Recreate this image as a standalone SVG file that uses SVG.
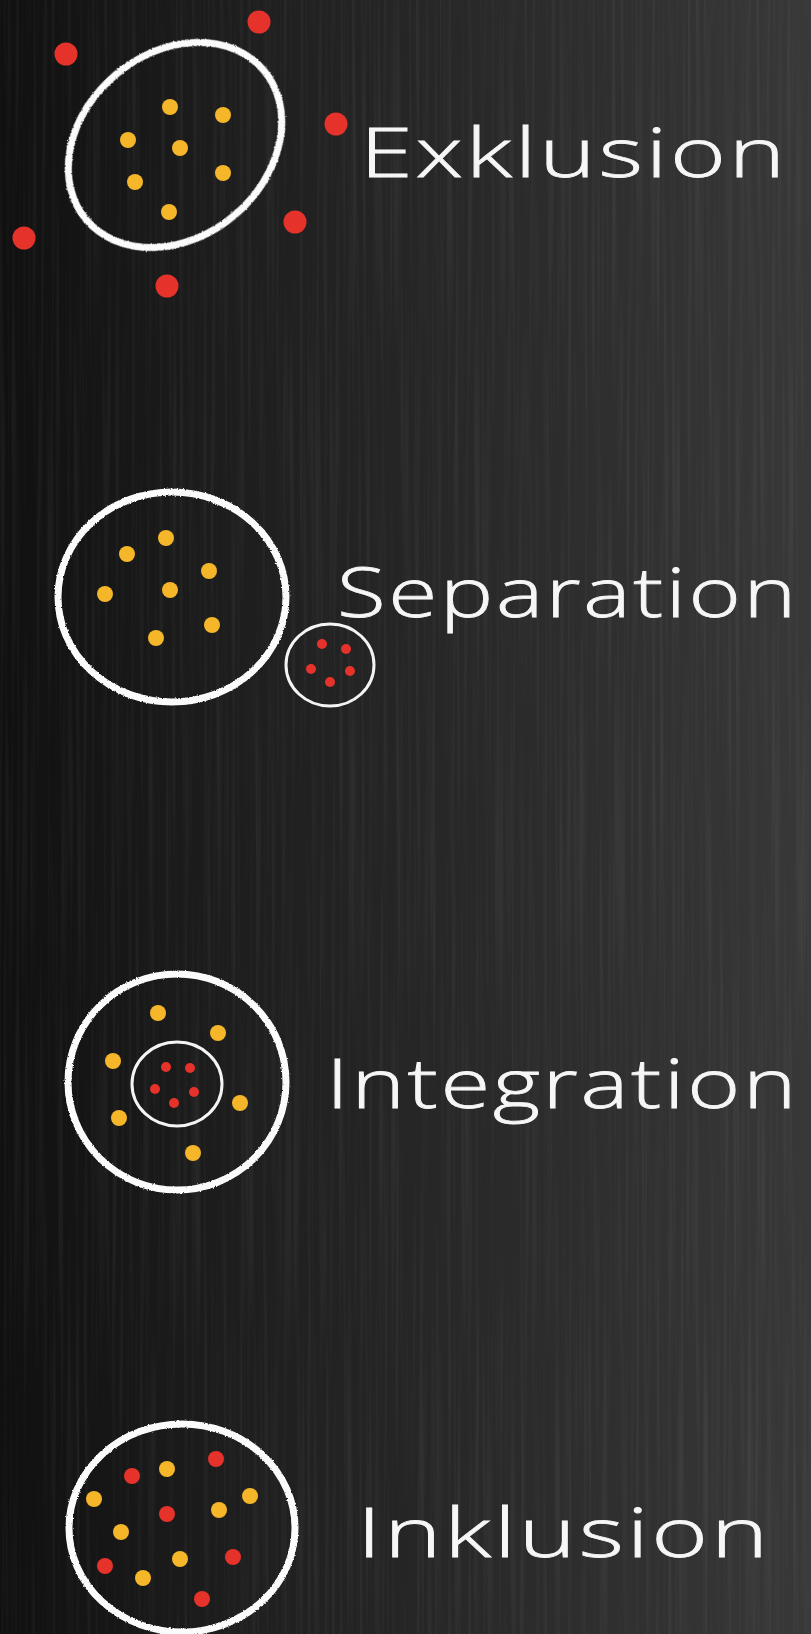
<svg xmlns="http://www.w3.org/2000/svg" width="811" height="1634" viewBox="0 0 811 1634">
<defs>
<linearGradient id="bg" x1="0" y1="0" x2="1" y2="0">
<stop offset="0" stop-color="#101010"/>
<stop offset="0.3" stop-color="#1e1e1e"/>
<stop offset="1" stop-color="#383838"/>
</linearGradient>
<filter id="streaks" x="0" y="0" width="100%" height="100%">
<feTurbulence type="fractalNoise" baseFrequency="0.25 0.003" numOctaves="2" seed="3" result="n"/>
<feColorMatrix type="matrix" values="0 0 0 0 1  0 0 0 0 1  0 0 0 0 1  0.9 0 0 0 -0.4" />
</filter>
<filter id="chalk" x="-10%" y="-10%" width="120%" height="120%">
<feTurbulence type="fractalNoise" baseFrequency="0.6" numOctaves="2" seed="7" result="t"/>
<feDisplacementMap in="SourceGraphic" in2="t" scale="2.5" xChannelSelector="R" yChannelSelector="G"/>
</filter>
<style>
.ring{fill:none;stroke:#fbfbfb;stroke-width:7;filter:url(#chalk)}
.thin{fill:none;stroke:#f4f4f4;stroke-width:3}
.y{fill:#f6b62a}
.r{fill:#e5322b}
.lbl{font-family:"Open Sans","Liberation Sans",sans-serif;font-size:68px;fill:#f6f6f6;stroke:#f6f6f6;stroke-width:0.8;font-weight:300;letter-spacing:2px}
</style>
</defs>
<rect width="811" height="1634" fill="url(#bg)"/>
<rect width="811" height="1634" filter="url(#streaks)" opacity="0.15"/>

<g id="exklusion">
<ellipse class="ring" cx="175" cy="145" rx="116" ry="92" transform="rotate(-40 175 145)"/>
<circle class="y" cx="170" cy="107" r="8"/>
<circle class="y" cx="223" cy="115" r="8"/>
<circle class="y" cx="128" cy="140" r="8"/>
<circle class="y" cx="180" cy="148" r="8"/>
<circle class="y" cx="223" cy="173" r="8"/>
<circle class="y" cx="135" cy="182" r="8"/>
<circle class="y" cx="169" cy="212" r="8"/>
<circle class="r" cx="259" cy="22" r="11.5"/>
<circle class="r" cx="66" cy="54" r="11.5"/>
<circle class="r" cx="336" cy="124" r="11.5"/>
<circle class="r" cx="295" cy="222" r="11.5"/>
<circle class="r" cx="24" cy="238" r="11.5"/>
<circle class="r" cx="167" cy="286" r="11.5"/>
<text class="lbl" x="360" y="177" textLength="428" lengthAdjust="spacingAndGlyphs">Exklusion</text>
</g>

<g id="separation">
<ellipse class="ring" cx="172" cy="597" rx="114" ry="105"/>
<circle class="y" cx="166" cy="538" r="8"/>
<circle class="y" cx="127" cy="554" r="8"/>
<circle class="y" cx="209" cy="571" r="8"/>
<circle class="y" cx="105" cy="594" r="8"/>
<circle class="y" cx="170" cy="590" r="8"/>
<circle class="y" cx="212" cy="625" r="8"/>
<circle class="y" cx="156" cy="638" r="8"/>
<ellipse class="thin" cx="330" cy="665" rx="44" ry="41"/>
<circle class="r" cx="322" cy="644" r="5"/>
<circle class="r" cx="346" cy="649" r="5"/>
<circle class="r" cx="311" cy="669" r="5"/>
<circle class="r" cx="350" cy="671" r="5"/>
<circle class="r" cx="330" cy="682" r="5"/>
<text class="lbl" x="337" y="617" textLength="462" lengthAdjust="spacingAndGlyphs">Separation</text>
</g>

<g id="integration">
<ellipse class="ring" cx="177" cy="1082" rx="109" ry="108"/>
<circle class="y" cx="158" cy="1013" r="8"/>
<circle class="y" cx="218" cy="1033" r="8"/>
<circle class="y" cx="113" cy="1061" r="8"/>
<circle class="y" cx="240" cy="1103" r="8"/>
<circle class="y" cx="119" cy="1118" r="8"/>
<circle class="y" cx="193" cy="1153" r="8"/>
<ellipse class="thin" cx="177" cy="1084" rx="45" ry="42"/>
<circle class="r" cx="166" cy="1067" r="5"/>
<circle class="r" cx="190" cy="1068" r="5"/>
<circle class="r" cx="155" cy="1089" r="5"/>
<circle class="r" cx="194" cy="1092" r="5"/>
<circle class="r" cx="174" cy="1103" r="5"/>
<text class="lbl" x="326" y="1108" textLength="473" lengthAdjust="spacingAndGlyphs">Integration</text>
</g>

<g id="inklusion">
<ellipse class="ring" cx="182" cy="1528" rx="113" ry="104"/>
<circle class="r" cx="216" cy="1459" r="8"/>
<circle class="r" cx="132" cy="1476" r="8"/>
<circle class="y" cx="167" cy="1469" r="8"/>
<circle class="y" cx="94" cy="1499" r="8"/>
<circle class="y" cx="250" cy="1496" r="8"/>
<circle class="r" cx="167" cy="1514" r="8"/>
<circle class="y" cx="219" cy="1510" r="8"/>
<circle class="y" cx="121" cy="1532" r="8"/>
<circle class="r" cx="105" cy="1566" r="8"/>
<circle class="y" cx="180" cy="1559" r="8"/>
<circle class="r" cx="233" cy="1557" r="8"/>
<circle class="y" cx="143" cy="1578" r="8"/>
<circle class="r" cx="202" cy="1599" r="8"/>
<text class="lbl" x="357" y="1557" textLength="414" lengthAdjust="spacingAndGlyphs">Inklusion</text>
</g>
</svg>
